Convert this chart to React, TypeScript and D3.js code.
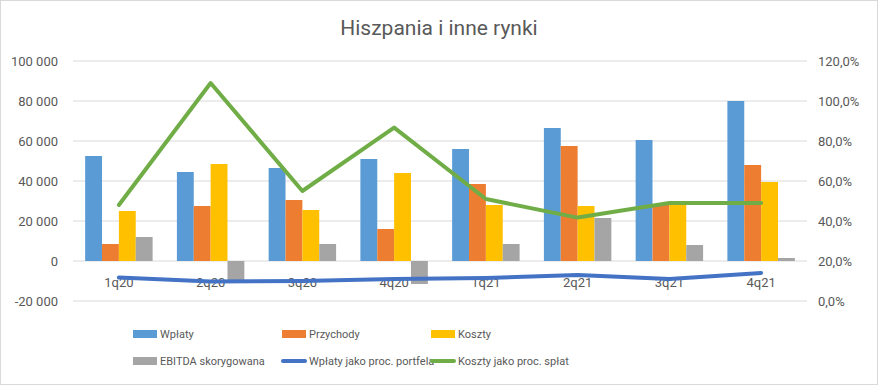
import React from 'react';
import * as d3 from 'd3';

const quarters = ['1q20', '2q20', '3q20', '4q20', '1q21', '2q21', '3q21', '4q21'];
const wplaty = [52500, 44500, 46500, 51000, 56000, 66500, 60500, 80000];
const przychody = [8500, 27500, 30500, 16000, 38500, 57500, 28500, 48000];
const koszty = [25000, 48500, 25500, 44000, 28000, 27500, 28500, 39500];
const ebitda = [12000, -9500, 8500, -11500, 8500, 21500, 8000, 1500];
const wplatyPct = [11.7, 9.7, 10, 11, 11.5, 13, 11, 14];
const kosztyPct = [48, 109, 55, 86.7, 51, 41.7, 49, 49];
const leftTicks = [-20000, 0, 20000, 40000, 60000, 80000, 100000];
const rightTicks = [0, 20, 40, 60, 80, 100, 120];

const W = 878, H = 385;
const plot = { left: 73, right: 807, top: 61, bottom: 301 };
const font = 'Roboto, "Open Sans", sans-serif';
const textColor = '#595959';

const barSeries = [
  { name: 'Wpłaty', values: wplaty, color: '#5b9bd5' },
  { name: 'Przychody', values: przychody, color: '#ed7d31' },
  { name: 'Koszty', values: koszty, color: '#ffc000' },
  { name: 'EBITDA skorygowana', values: ebitda, color: '#a5a5a5' },
];
const lineSeries = [
  { name: 'Wpłaty jako proc. portfela', values: wplatyPct, color: '#4472c4' },
  { name: 'Koszty jako proc. spłat', values: kosztyPct, color: '#70ad47' },
];

const fmtLeft = (v: number) => d3.format(',')(v).replace(/,/g, ' ').replace('−', '-');
const fmtRight = (v: number) => v.toFixed(1).replace('.', ',') + '%';

export default function App() {
  const x = d3.scaleBand().domain(quarters).range([plot.left, plot.right]).paddingInner(0).paddingOuter(0);
  const inner = d3.scaleBand().domain(barSeries.map(s => s.name)).range([0, x.bandwidth()]).paddingInner(0).paddingOuter(0.72);
  const yL = d3.scaleLinear().domain([-20000, 100000]).range([plot.bottom, plot.top]);
  const yR = d3.scaleLinear().domain([0, 120]).range([plot.bottom, plot.top]);
  const cx = (q: string) => (x(q) as number) + x.bandwidth() / 2;

  const line = d3.line<number>()
    .x((_, i) => cx(quarters[i]))
    .y(d => yR(d));

  const legendItems = [
    { s: barSeries[0], type: 'bar', x: 133, y: 334 },
    { s: barSeries[1], type: 'bar', x: 282, y: 334 },
    { s: barSeries[2], type: 'bar', x: 431, y: 334 },
    { s: barSeries[3], type: 'bar', x: 133, y: 361 },
    { s: lineSeries[0], type: 'line', x: 282, y: 361 },
    { s: lineSeries[1], type: 'line', x: 431, y: 361 },
  ];

  return (
    <div style={{ position: 'fixed', left: 0, top: 0 }}>
      <svg width={W} height={H} style={{ display: 'block', fontFamily: font }}>
        <rect x={0.5} y={0.5} width={W - 1} height={H - 1} fill="#fff" stroke="#d9d9d9" />
        <text x={W / 2} y={35} textAnchor="middle" fontSize={21} fill={textColor}>Hiszpania i inne rynki</text>

        {leftTicks.map(t => (
          <g key={t}>
            <line x1={plot.left} x2={plot.right} y1={yL(t)} y2={yL(t)} stroke="#d9d9d9" strokeWidth={1} />
            <text x={58} y={yL(t)} dy="0.35em" textAnchor="end" fontSize={13} fill={textColor}>{fmtLeft(t)}</text>
          </g>
        ))}
        {rightTicks.map(t => (
          <text key={t} x={818} y={yR(t)} dy="0.35em" textAnchor="start" fontSize={13} fill={textColor}>{fmtRight(t)}</text>
        ))}

        {barSeries.map(s => (
          <g key={s.name}>
            {s.values.map((v, i) => (
              <rect key={i}
                x={(x(quarters[i]) as number) + (inner(s.name) as number)}
                width={inner.bandwidth()}
                y={Math.min(yL(v), yL(0))}
                height={Math.abs(yL(v) - yL(0))}
                fill={s.color} />
            ))}
          </g>
        ))}

        {quarters.map(q => (
          <text key={q} x={cx(q)} y={282} dy="0.35em" textAnchor="middle" fontSize={13} fill={textColor}>{q}</text>
        ))}

        {lineSeries.map(s => (
          <path key={s.name} d={line(s.values) || ''} fill="none" stroke={s.color} strokeWidth={4} strokeLinecap="round" strokeLinejoin="round" />
        ))}

        {legendItems.map(it => (
          <g key={it.s.name}>
            {it.type === 'bar'
              ? <rect x={it.x} y={it.y - 4} width={24} height={8} fill={it.s.color} />
              : <line x1={it.x + 1} x2={it.x + 23} y1={it.y} y2={it.y} stroke={it.s.color} strokeWidth={4} strokeLinecap="round" />}
            <text x={it.x + 27} y={it.y} dy="0.35em" fontSize={11} fill={textColor}>{it.s.name}</text>
          </g>
        ))}
      </svg>
    </div>
  );
}
